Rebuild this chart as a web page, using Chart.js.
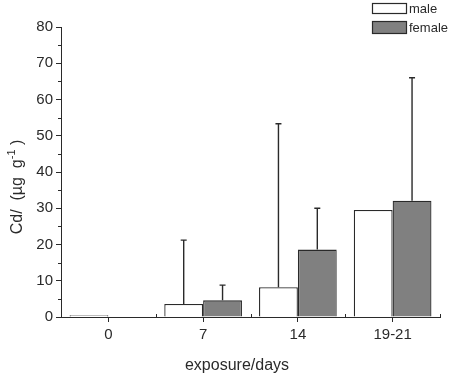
<!DOCTYPE html>
<html>
<head>
<meta charset="utf-8">
<script src="https://cdn.jsdelivr.net/npm/chart.js@4/dist/chart.umd.min.js"></script>
<style>
html,body{margin:0;padding:0;background:#fff;}
#wrap{width:450px;height:376px;position:relative;}
</style>
</head>
<body>
<div id="wrap"><canvas id="c" width="450" height="376"></canvas></div>
<script>
const categories = ["0", "7", "14", "19-21"];
const maleValues = [0.5, 3.6, 8.2, 29.5];
const femaleValues = [0, 4.6, 18.6, 32.1];
const maleErrors = [null, 17.6, 45.1, null];
const femaleErrors = [null, 4.2, 11.4, 33.9];
const yTicks = [0, 10, 20, 30, 40, 50, 60, 70, 80];
const seriesNames = ["male", "female"];
const xTitle = "exposure/days";

const FONT = "'Liberation Sans', Arial, sans-serif";
const INK = "#2a2a2a";

const errorBars = {
  id: 'errorBars',
  afterDatasetsDraw(chart) {
    const ctx = chart.ctx;
    const y = chart.scales.y;
    const errs = [maleErrors, femaleErrors];
    chart.data.datasets.forEach((ds, di) => {
      const meta = chart.getDatasetMeta(di);
      meta.data.forEach((el, i) => {
        const e = errs[di][i];
        if (e == null) return;
        const top = y.getPixelForValue(ds.data[i] + e);
        ctx.save();
        ctx.strokeStyle = INK;
        ctx.lineWidth = 1.4;
        ctx.beginPath();
        ctx.moveTo(el.x, el.y);
        ctx.lineTo(el.x, top);
        ctx.moveTo(el.x - 3, top);
        ctx.lineTo(el.x + 3, top);
        ctx.stroke();
        ctx.restore();
      });
    });
  }
};

const extras = {
  id: 'extras',
  afterDraw(chart) {
    const ctx = chart.ctx;
    const xs = chart.scales.x, ys = chart.scales.y;
    const area = chart.chartArea;
    ctx.save();
    ctx.strokeStyle = INK;
    ctx.lineWidth = 1;
    ctx.beginPath();
    for (let v = 5; v < 80; v += 10) {
      const py = Math.round(ys.getPixelForValue(v)) + 0.5;
      ctx.moveTo(area.left - 3, py);
      ctx.lineTo(area.left, py);
    }
    for (let i = 0; i <= categories.length; i++) {
      const px = Math.round(xs.getPixelForValue(i - 0.5)) + 0.5;
      ctx.moveTo(px, area.bottom);
      ctx.lineTo(px, area.bottom - 3);
    }
    ctx.stroke();

    // legend
    ctx.font = "13px " + FONT;
    ctx.textBaseline = 'middle';
    const ly = [8, 27];
    const lh = [10, 12];
    chart.data.datasets.forEach((ds, i) => {
      ctx.fillStyle = ds.backgroundColor;
      ctx.fillRect(372, ly[i] - lh[i] / 2, 34, lh[i]);
      ctx.strokeStyle = INK;
      ctx.lineWidth = 1.2;
      ctx.strokeRect(372.5, ly[i] - lh[i] / 2 + 0.5, 34, lh[i]);
      ctx.fillStyle = INK;
      ctx.textAlign = 'left';
      ctx.fillText(ds.label, 409, ly[i] + 1);
    });

    // x title
    ctx.fillStyle = INK;
    ctx.font = "16px " + FONT;
    ctx.textAlign = 'center';
    ctx.textBaseline = 'alphabetic';
    ctx.fillText(xTitle, 237, 370);

    // y title with superscript
    ctx.translate(22, 187);
    ctx.rotate(-Math.PI / 2);
    const parts = [
      {t: "Cd/  (\u00b5g  g", f: "16px " + FONT, dy: 0},
      {t: "-1", f: "11px " + FONT, dy: -7},
      {t: " )", f: "16px " + FONT, dy: 0}
    ];
    let total = 0;
    parts.forEach(p => { ctx.font = p.f; p.w = ctx.measureText(p.t).width; total += p.w; });
    let x0 = -total / 2;
    ctx.textAlign = 'left';
    parts.forEach(p => { ctx.font = p.f; ctx.fillText(p.t, x0, p.dy); x0 += p.w; });
    ctx.restore();
  }
};

new Chart(document.getElementById('c'), {
  type: 'bar',
  data: {
    labels: categories,
    datasets: [
      {label: seriesNames[0], data: maleValues, backgroundColor: '#ffffff', borderColor: INK, borderWidth: 1.3},
      {label: seriesNames[1], data: femaleValues, backgroundColor: '#808080', borderColor: INK, borderWidth: 1.3}
    ]
  },
  options: {
    responsive: false,
    animation: false,
    devicePixelRatio: 1,
    layout: {padding: {left: 0, top: 27, right: 10, bottom: 0}},
    plugins: {legend: {display: false}, tooltip: {enabled: false}},
    datasets: {bar: {categoryPercentage: 0.82, barPercentage: 1.0}},
    scales: {
      x: {
        offset: true,
        grid: {offset: false, drawOnChartArea: false, drawTicks: true, tickLength: 5, color: INK},
        border: {display: true, color: INK, width: 1},
        ticks: {font: {size: 15, family: FONT}, color: INK, padding: 4},
        afterFit(s) { s.height = 59; }
      },
      y: {
        min: 0, max: 80,
        afterBuildTicks(s) { s.ticks = yTicks.map(v => ({value: v})); },
        grid: {drawOnChartArea: false, drawTicks: true, tickLength: 5, color: INK},
        border: {display: true, color: INK, width: 1},
        ticks: {font: {size: 15, family: FONT}, color: INK, padding: 3},
        afterFit(s) { s.width = 61; }
      }
    }
  },
  plugins: [errorBars, extras]
});
</script>
</body>
</html>
